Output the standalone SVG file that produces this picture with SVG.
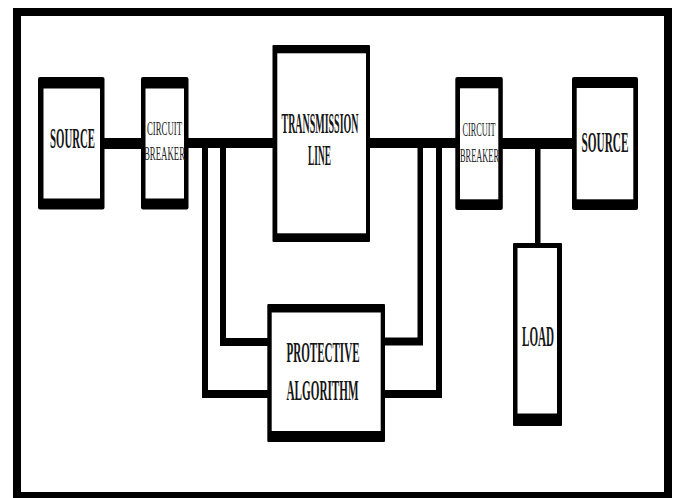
<svg xmlns="http://www.w3.org/2000/svg" width="676" height="498" viewBox="0 0 676 498">
<style>
.bx{fill:#000}
.in{fill:#fff}
.t{font-family:"Liberation Serif","Times New Roman",serif;text-anchor:middle;fill:#151515}
.lg{font-size:29px;font-weight:bold}
.sm{font-size:18px;font-weight:normal;fill:#222}
.w{fill:#000}
</style>
<rect width="676" height="498" fill="#fff"/>
<rect x="17" y="12" width="651" height="484" fill="none" stroke="#000" stroke-width="8"/>
<g id="connectors">
  <rect class="w" x="104" y="138" width="38" height="11"/>
  <rect class="w" x="187" y="138" width="87" height="10"/>
  <rect class="w" x="369" y="138" width="87" height="10"/>
  <rect class="w" x="502" y="138" width="71" height="11"/>
  <rect class="w" x="535" y="143" width="5.5" height="101"/>
  <rect class="w" x="202" y="143" width="6" height="255"/>
  <rect class="w" x="202" y="390" width="66" height="8"/>
  <rect class="w" x="220" y="143" width="6" height="203"/>
  <rect class="w" x="220" y="338" width="48" height="8"/>
  <rect class="w" x="417.5" y="143" width="5.5" height="202"/>
  <rect class="w" x="384" y="337.5" width="39" height="8"/>
  <rect class="w" x="436" y="143" width="6" height="255"/>
  <rect class="w" x="384" y="390" width="58" height="8"/>
</g>
<g id="source-left">
  <rect class="bx" x="38" y="77" width="66.5" height="132.5" rx="2"/>
  <rect class="in" x="43.5" y="88.5" width="56.5" height="110"/>
  <text class="t lg" transform="translate(72.5 148) scale(0.372 1)">SOURCE</text>
</g>
<g id="breaker-left">
  <rect class="bx" x="141" y="77" width="47.5" height="132.5" rx="2"/>
  <rect class="in" x="145.5" y="88.5" width="38.5" height="110"/>
  <text class="t sm" transform="translate(164.5 135) scale(0.486 1)">CIRCUIT</text>
  <text class="t sm" transform="translate(164.5 160) scale(0.488 1)">BREAKER</text>
</g>
<g id="transmission-line">
  <rect class="bx" x="272.5" y="45" width="97.5" height="197" rx="1"/>
  <rect class="in" x="277.3" y="53.3" width="88.7" height="180"/>
  <text class="t lg" transform="translate(320 133) scale(0.344 1)">TRANSMISSION</text>
  <text class="t lg" transform="translate(319.5 165) scale(0.324 1)">LINE</text>
</g>
<g id="breaker-right">
  <rect class="bx" x="455.3" y="77" width="47.5" height="133" rx="2"/>
  <rect class="in" x="460" y="88.3" width="38.3" height="111"/>
  <text class="t sm" transform="translate(479 136) scale(0.458 1)">CIRCUIT</text>
  <text class="t sm" transform="translate(479.5 162) scale(0.464 1)">BREAKER</text>
</g>
<g id="source-right">
  <rect class="bx" x="572" y="77" width="66" height="133" rx="2"/>
  <rect class="in" x="576.7" y="88" width="56.6" height="111.3"/>
  <text class="t lg" transform="translate(605 152) scale(0.389 1)">SOURCE</text>
</g>
<g id="load">
  <rect class="bx" x="513" y="243" width="49" height="183" rx="1"/>
  <rect class="in" x="517.5" y="248" width="39.5" height="165.5"/>
  <text class="t lg" transform="translate(538 346) scale(0.382 1)">LOAD</text>
</g>
<g id="protective-algorithm">
  <rect class="bx" x="267.3" y="304" width="117.7" height="138" rx="1"/>
  <rect class="in" x="271.7" y="312.5" width="109" height="118.5"/>
  <text class="t lg" transform="translate(323 362) scale(0.381 1)">PROTECTIVE</text>
  <text class="t lg" transform="translate(322.5 400) scale(0.385 1)">ALGORITHM</text>
</g>
</svg>
